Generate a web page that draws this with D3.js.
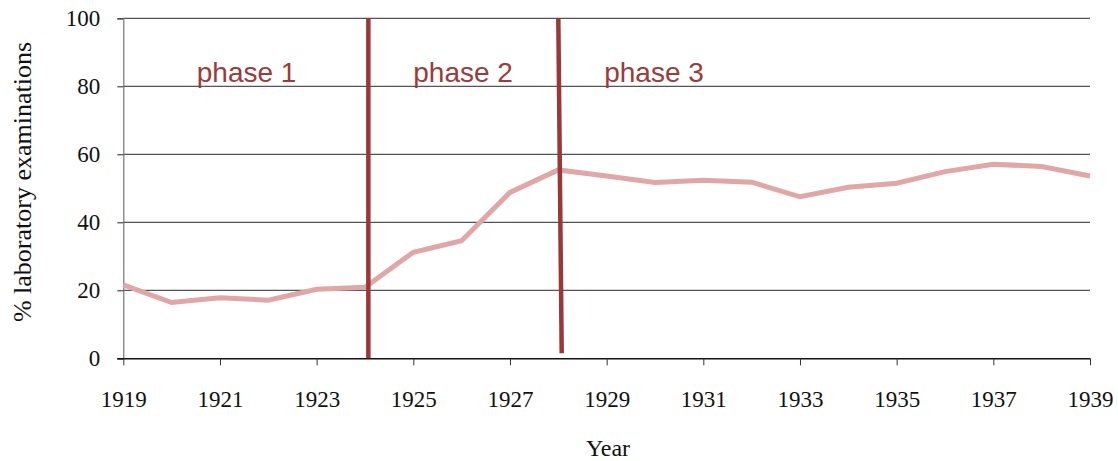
<!DOCTYPE html>
<html>
<head>
<meta charset="utf-8">
<script src="https://cdn.jsdelivr.net/npm/d3@7"></script>
<style>
  html, body { margin: 0; padding: 0; background: #fff; }
  svg { display: block; }
</style>
</head>
<body>
<svg id="chart" width="1118" height="461"></svg>
<script>
// Share of laboratory examinations by year
const years = [1919, 1920, 1921, 1922, 1923, 1924, 1925, 1926, 1927, 1928, 1929,
               1930, 1931, 1932, 1933, 1934, 1935, 1936, 1937, 1938, 1939];
const labShare = [21.6, 16.4, 17.8, 17.1, 20.3, 20.9, 31.2, 34.6, 48.8, 55.4, 53.6,
                  51.7, 52.4, 51.8, 47.5, 50.3, 51.5, 54.9, 57.1, 56.4, 53.6];
const yTicks = [0, 20, 40, 60, 80, 100];
const xTicks = [1919, 1921, 1923, 1925, 1927, 1929, 1931, 1933, 1935, 1937, 1939];
// Phase boundaries (year positions) and phase labels
const boundaryTop = [1924.07, 1928.0];
const boundaryBottom = [1924.07, 1928.07];
const boundaryEnd = [0, 1.5];
const phaseNames = ["phase 1", "phase 2", "phase 3"];
const phaseLabelYear = [1920.52, 1925.0, 1928.95];

const serif = "'Liberation Serif', 'Times New Roman', serif";
const svg = d3.select("#chart");
const plot = { left: 123.3, right: 1090, top: 18.3, bottom: 358.3 };

const x = d3.scaleLinear().domain([1919, 1939]).range([plot.left, plot.right]);
const y = d3.scaleLinear().domain([0, 100]).range([plot.bottom, plot.top]);

// horizontal gridlines
svg.append("g")
  .selectAll("line")
  .data(yTicks.filter(d => d > 0))
  .join("line")
  .attr("x1", plot.left).attr("x2", plot.right)
  .attr("y1", d => y(d)).attr("y2", d => y(d))
  .attr("stroke", "#2a2a2a").attr("stroke-width", 1);

// y axis
const yAxis = svg.append("g")
  .attr("transform", `translate(${plot.left},0)`)
  .call(d3.axisLeft(y).tickValues(yTicks).tickSize(6).tickPadding(17));
yAxis.select(".domain").attr("stroke", "#777").attr("stroke-width", 1.2);
yAxis.selectAll(".tick line").attr("stroke", "#222");
yAxis.selectAll("text")
  .attr("font-family", serif)
  .attr("font-size", 23).attr("fill", "#111");

// x axis
const xAxis = svg.append("g")
  .attr("transform", `translate(0,${plot.bottom})`)
  .call(d3.axisBottom(x).tickValues(xTicks).tickFormat(d3.format("d")).tickSize(7).tickPadding(25));
xAxis.select(".domain").attr("stroke", "#111").attr("stroke-width", 1.5)
  .attr("d", `M${plot.left - 6},0.5H${plot.right}`);
xAxis.selectAll(".tick line").attr("stroke", "#333");
xAxis.selectAll("text")
  .attr("font-family", serif)
  .attr("font-size", 23).attr("fill", "#111");

// data line
svg.append("path")
  .datum(years.map((yr, i) => [yr, labShare[i]]))
  .attr("fill", "none")
  .attr("stroke", "#e0a7a6")
  .attr("stroke-width", 5)
  .attr("stroke-linejoin", "miter")
  .attr("d", d3.line().x(d => x(d[0])).y(d => y(d[1])));

// phase boundaries
svg.append("g")
  .selectAll("line")
  .data(boundaryTop)
  .join("line")
  .attr("x1", d => x(d)).attr("y1", y(100))
  .attr("x2", (d, i) => x(boundaryBottom[i])).attr("y2", (d, i) => y(boundaryEnd[i]))
  .attr("stroke", "#983838").attr("stroke-width", 4.5);

// phase labels
svg.append("g")
  .selectAll("text")
  .data(phaseNames)
  .join("text")
  .attr("x", (d, i) => x(phaseLabelYear[i]))
  .attr("y", 82)
  .attr("font-family", "'Liberation Sans', Arial, sans-serif")
  .attr("font-size", 28)
  .attr("fill", "#9b3b3b")
  .text(d => d);

// axis titles
svg.append("text")
  .attr("x", 608).attr("y", 456)
  .attr("text-anchor", "middle")
  .attr("font-family", serif)
  .attr("font-size", 24).attr("fill", "#111")
  .text("Year");

svg.append("text")
  .attr("transform", "translate(31,182) rotate(-90)")
  .attr("text-anchor", "middle")
  .attr("font-family", serif)
  .attr("font-size", 26).attr("fill", "#111")
  .text("% laboratory examinations");
</script>
</body>
</html>
